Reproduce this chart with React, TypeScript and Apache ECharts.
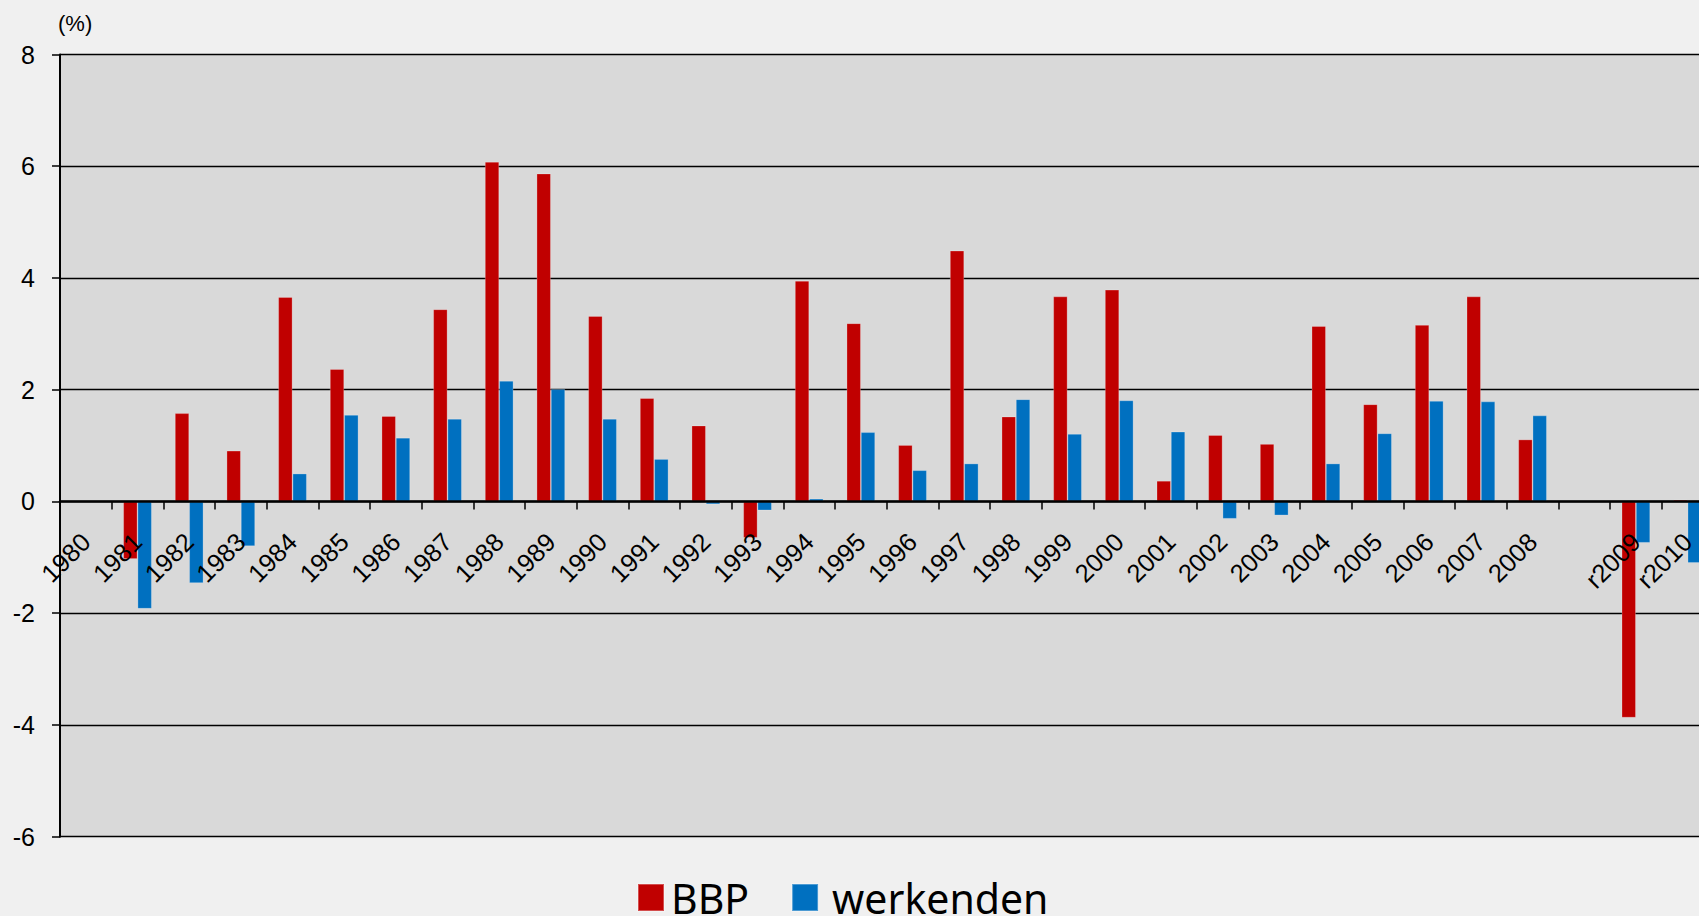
import React, { useEffect, useRef } from "react";
import * as echarts from "echarts";

const categories = [
  "1980", "1981", "1982", "1983", "1984", "1985", "1986", "1987", "1988", "1989",
  "1990", "1991", "1992", "1993", "1994", "1995", "1996", "1997", "1998", "1999",
  "2000", "2001", "2002", "2003", "2004", "2005", "2006", "2007", "2008", "",
  "r2009", "r2010",
];

const bbp = [
  null, -1.03, 1.58, 0.91, 3.66, 2.37, 1.53, 3.44, 6.08, 5.87,
  3.32, 1.85, 1.36, -0.65, 3.95, 3.19, 1.01, 4.49, 1.52, 3.67,
  3.79, 0.37, 1.19, 1.03, 3.14, 1.74, 3.16, 3.67, 1.11, null,
  -3.87, 0.03,
];

const werkenden = [
  null, -1.92, -1.46, -0.8, 0.5, 1.55, 1.14, 1.48, 2.16, 2.01,
  1.48, 0.76, -0.05, -0.16, 0.05, 1.24, 0.56, 0.68, 1.83, 1.21,
  1.81, 1.25, -0.31, -0.25, 0.68, 1.22, 1.8, 1.79, 1.54, null,
  -0.74, -1.1,
];

const yTicks = [-6, -4, -2, 0, 2, 4, 6, 8];

const Y_MIN = -6;
const Y_MAX = 8;
const GRID_TOP = 54.5;
const GRID_H = 782.2;

export default function App() {
  const ref = useRef<HTMLDivElement>(null);

  useEffect(() => {
    if (!ref.current) return;
    const chart = echarts.init(ref.current, null, { renderer: "svg" });
    const font = "'Liberation Sans', Arial, sans-serif";
    // distance from the bottom of the plot up to the zero line
    const zeroOffset = (GRID_H * (0 - Y_MIN)) / (Y_MAX - Y_MIN);
    chart.setOption({
      animation: false,
      backgroundColor: "#f0f0f0",
      grid: {
        left: 60,
        top: GRID_TOP,
        width: 1653.4,
        height: GRID_H,
        show: true,
        backgroundColor: "#d9d9d9",
        borderWidth: 0,
      },
      legend: {
        left: 632,
        top: 872,
        itemWidth: 26,
        itemHeight: 27,
        itemGap: 42,
        icon: "rect",
        textStyle: {
          fontSize: 41,
          color: "#000",
          fontFamily: "'Noto Sans', 'Open Sans', sans-serif",
          padding: [0, 0, 0, 2],
        },
        data: [
          { name: "BBP" },
          { name: "werkenden", textStyle: { padding: [0, 0, 0, 9] } },
        ],
      },
      graphic: [
        {
          type: "text",
          left: 58,
          top: 12,
          style: { text: "(%)", fontSize: 22, fill: "#000", fontFamily: font },
        },
      ],
      xAxis: [
        {
          type: "category",
          data: categories,
          z: 10,
          axisLine: { show: true, onZero: true, lineStyle: { color: "#000", width: 2.5 } },
          axisTick: { show: true, length: 8, lineStyle: { color: "#000", width: 1.5 } },
          axisLabel: { show: false },
          splitLine: { show: false },
        },
        {
          type: "category",
          data: categories,
          position: "bottom",
          offset: -zeroOffset,
          z: 10,
          axisLine: { show: false, onZero: false },
          axisTick: { show: false },
          axisLabel: {
            interval: 0,
            rotate: 45,
            margin: 36,
            fontSize: 25.5,
            color: "#000",
            fontFamily: font,
          },
          splitLine: { show: false },
        },
      ],
      yAxis: {
        type: "value",
        min: Y_MIN,
        max: Y_MAX,
        interval: 2,
        axisLine: { show: true, lineStyle: { color: "#000", width: 2 } },
        axisTick: { show: true, length: 8, lineStyle: { color: "#000", width: 1.5 } },
        axisLabel: {
          margin: 25,
          fontSize: 25,
          color: "#000",
          fontFamily: font,
          customValues: yTicks,
        },
        splitLine: { show: true, lineStyle: { color: "#000", width: 1.4 } },
      },
      series: [
        {
          name: "BBP",
          type: "bar",
          data: bbp,
          barWidth: 14.3,
          barGap: "0%",
          itemStyle: { color: "#c00000", borderColor: "rgba(255,255,255,0.3)", borderWidth: 0.8 },
        },
        {
          name: "werkenden",
          type: "bar",
          data: werkenden,
          barWidth: 14.3,
          barGap: "0%",
          itemStyle: { color: "#0070c0", borderColor: "rgba(255,255,255,0.3)", borderWidth: 0.8 },
        },
      ],
    });
    return () => chart.dispose();
  }, []);

  return (
    <div
      style={{
        position: "fixed",
        left: 0,
        top: 0,
        width: 1699,
        height: 916,
        overflow: "hidden",
        background: "#f0f0f0",
      }}
    >
      <div ref={ref} style={{ width: 1740, height: 916 }} />
    </div>
  );
}
